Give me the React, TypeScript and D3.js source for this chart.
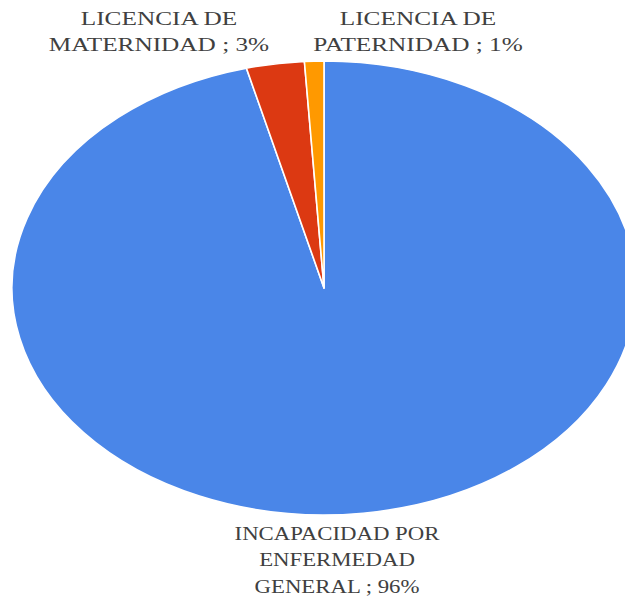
import * as d3 from "d3";

const categories = ["INCAPACIDAD POR ENFERMEDAD GENERAL", "LICENCIA DE MATERNIDAD", "LICENCIA DE PATERNIDAD"];
const values = [96, 3, 1];
const colors = ["#4a86e8", "#dc3912", "#ff9900"];
// label lines as they wrap in the original
const labelLines = [
  ["INCAPACIDAD POR", "ENFERMEDAD", "GENERAL ; 96%"],
  ["LICENCIA DE", "MATERNIDAD ; 3%"],
  ["LICENCIA DE", "PATERNIDAD ; 1%"],
];

const W = 625;
const H = 600;
const CX = 324;
const CY = 288;
const RX = 312;
const RY = 227;
const FONT = "'Liberation Serif', 'Times New Roman', serif";

// label anchor (center x, first baseline y, horizontal stretch)
const labelPos = [
  { x: 337, y: 540, sx: 1.2 },
  { x: 159, y: 25, sx: 1.33 },
  { x: 418, y: 25, sx: 1.33 },
];

interface Datum {
  name: string;
  value: number;
  color: string;
}

export default function App() {
  const data: Datum[] = categories.map((name, i) => ({ name, value: values[i], color: colors[i] }));
  const pie = d3
    .pie<Datum>()
    .sort(null)
    .value((d) => d.value)
    .startAngle(0)
    .endAngle(2 * Math.PI);
  const arcs = pie(data);
  const arc = d3.arc<d3.PieArcDatum<Datum>>().innerRadius(0).outerRadius(RY);

  return (
    <svg
      width={W}
      height={H}
      style={{ position: "absolute", left: 0, top: 0, display: "block", background: "#fff" }}
    >
      <g transform={`translate(${CX},${CY}) scale(${RX / RY},1)`}>
        {arcs.map((a) => (
          <path
            key={a.data.name}
            d={arc(a) ?? ""}
            fill={a.data.color}
            stroke="#ffffff"
            strokeWidth={1.6}
            strokeLinejoin="round"
            vectorEffect="non-scaling-stroke"
          />
        ))}
      </g>
      {labelLines.map((lines, i) => (
        <g key={categories[i]} transform={`translate(${labelPos[i].x},${labelPos[i].y}) scale(${labelPos[i].sx},1)`}>
          {lines.map((line, j) => (
            <text
              key={j}
              x={0}
              y={j * 26.5}
              textAnchor="middle"
              fontFamily={FONT}
              fontSize={19}
              fill="#404040"
            >
              {line}
            </text>
          ))}
        </g>
      ))}
    </svg>
  );
}
